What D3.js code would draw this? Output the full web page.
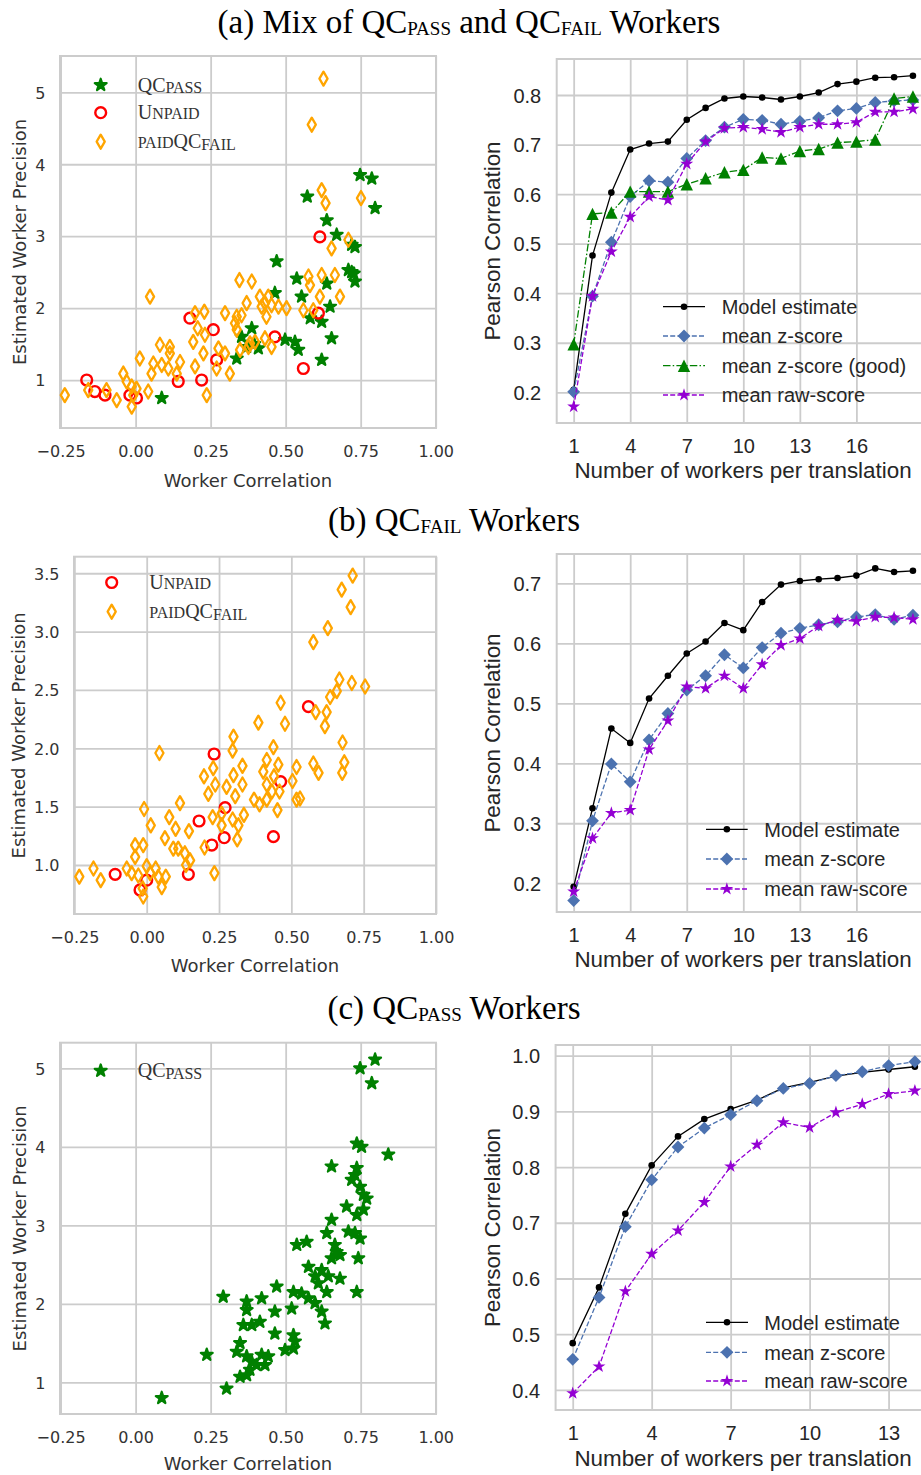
<!DOCTYPE html>
<html><head><meta charset="utf-8">
<script src="https://cdn.jsdelivr.net/npm/d3@7"></script>
<style>body{margin:0;background:#fff}svg{display:block}</style>
</head><body>
<svg id="chart" width="921" height="1475"></svg>
<script>
// ---------------- DATA ----------------
const corrTicks = [-0.25, 0, 0.25, 0.5, 0.75, 1.0];
const precTicksA = [1, 2, 3, 4, 5];
const precTicksB = [1.0, 1.5, 2.0, 2.5, 3.0, 3.5];
const precTicksC = [1, 2, 3, 4, 5];
const workerTicksAB = [1, 4, 7, 10, 13, 16];
const workerTicksC = [1, 4, 7, 10, 13];
const pearsonTicksA = [0.2, 0.3, 0.4, 0.5, 0.6, 0.7, 0.8];
const pearsonTicksB = [0.2, 0.3, 0.4, 0.5, 0.6, 0.7];
const pearsonTicksC = [0.4, 0.5, 0.6, 0.7, 0.8, 0.9, 1.0];

// (a) scatter: [worker correlation, estimated precision]
const aPass = [[0.748,3.85],[0.787,3.80],[0.572,3.55],[0.798,3.39],[0.637,3.22],[0.670,3.02],[0.731,2.85],[0.720,2.88],[0.470,2.65],[0.709,2.53],[0.727,2.48],[0.731,2.37],[0.537,2.41],[0.637,2.34],[0.464,2.21],[0.553,2.16],[0.648,2.02],[0.582,1.86],[0.620,1.81],[0.653,1.58],[0.620,1.28],[0.387,1.72],[0.353,1.60],[0.498,1.56],[0.531,1.53],[0.542,1.42],[0.409,1.44],[0.337,1.30],[0.087,0.75],[0.370,1.46],[0.395,1.50],[0.720,2.50]];
const aUnpaid = [[0.614,2.99],[0.609,1.93],[0.464,1.60],[0.559,1.16],[0.181,1.86],[0.259,1.70],[0.270,1.28],[0.142,0.98],[0.220,1.00],[-0.163,1.00],[-0.136,0.84],[-0.102,0.79],[-0.019,0.79],[0.003,0.75]];
const aFail = [[0.626,5.19],[0.587,4.55],[0.620,3.64],[0.633,3.46],[0.751,3.53],[0.709,2.95],[0.653,2.83],[0.346,2.39],[0.387,2.37],[0.576,2.44],[0.581,2.32],[0.620,2.46],[0.664,2.46],[0.681,2.16],[0.614,2.16],[0.592,1.97],[0.559,1.97],[0.048,2.16],[0.370,2.07],[0.414,2.16],[0.442,2.16],[0.420,2.02],[0.453,2.04],[0.476,2.02],[0.503,2.00],[0.436,1.88],[0.298,1.93],[0.337,1.88],[0.353,1.90],[0.331,1.79],[0.337,1.70],[0.198,1.93],[0.229,1.95],[0.207,1.72],[0.231,1.63],[0.192,1.53],[0.226,1.37],[0.081,1.49],[0.114,1.46],[0.114,1.37],[0.014,1.30],[0.059,1.23],[0.087,1.21],[0.109,1.16],[0.148,1.25],[0.137,1.09],[0.053,1.09],[0.042,0.84],[-0.041,1.09],[-0.030,0.98],[-0.013,0.91],[-0.008,0.79],[-0.013,0.63],[0.003,0.88],[-0.097,0.86],[-0.158,0.86],[-0.063,0.72],[-0.236,0.79],[0.198,1.19],[0.237,0.79],[0.276,1.44],[0.298,1.37],[0.270,1.16],[0.314,1.09],[0.348,1.42],[0.381,1.51],[0.398,1.53],[0.431,1.58],[0.453,1.46],[0.376,1.46],[0.431,2.07]];

// (a) curves
const workersA = [1,2,3,4,5,6,7,8,9,10,11,12,13,14,15,16,17,18,19];
const aModel = [0.205,0.476,0.603,0.690,0.702,0.706,0.750,0.774,0.793,0.797,0.795,0.791,0.797,0.805,0.822,0.827,0.835,0.836,0.839];
const aZ     = [0.201,0.394,0.503,0.595,0.627,0.624,0.672,0.708,0.735,0.751,0.749,0.741,0.747,0.754,0.768,0.773,0.785,0.788,0.790];
const aZGood = [0.297,0.560,0.563,0.605,0.605,0.605,0.620,0.632,0.644,0.649,0.674,0.672,0.687,0.691,0.704,0.706,0.710,0.793,0.797];
const aRaw   = [0.171,0.394,0.484,0.554,0.595,0.588,0.661,0.706,0.733,0.735,0.731,0.725,0.735,0.741,0.741,0.745,0.766,0.766,0.772];

// (b) scatter
const bUnpaid = [[0.559,2.357],[0.233,1.951],[0.463,1.714],[0.271,1.491],[0.181,1.377],[0.225,1.171],[0.268,1.234],[0.438,1.243],[0.144,0.920],[-0.109,0.920],[-0.023,0.786],[0.000,0.870]];
const bFail = [[0.712,3.48],[0.674,3.36],[0.705,3.21],[0.626,3.03],[0.576,2.91],[0.666,2.59],[0.709,2.56],[0.755,2.53],[0.634,2.44],[0.657,2.49],[0.463,2.39],[0.584,2.31],[0.622,2.31],[0.616,2.19],[0.386,2.22],[0.478,2.21],[0.300,2.10],[0.297,1.98],[0.438,2.01],[0.677,2.05],[0.683,1.88],[0.676,1.79],[0.576,1.87],[0.594,1.79],[0.044,1.96],[0.331,1.85],[0.415,1.90],[0.455,1.86],[0.403,1.80],[0.440,1.76],[0.518,1.84],[0.504,1.72],[0.300,1.77],[0.230,1.83],[0.198,1.76],[0.237,1.69],[0.276,1.67],[0.331,1.69],[0.213,1.61],[0.306,1.59],[0.415,1.69],[0.433,1.63],[0.459,1.63],[0.371,1.56],[0.390,1.52],[0.415,1.56],[0.452,1.47],[0.518,1.56],[0.530,1.57],[-0.009,1.48],[0.014,1.34],[0.115,1.53],[0.078,1.41],[0.100,1.31],[0.063,1.23],[0.146,1.29],[0.228,1.41],[0.259,1.44],[0.259,1.34],[0.297,1.39],[0.317,1.34],[0.336,1.43],[0.313,1.22],[0.200,1.15],[0.092,1.14],[0.109,1.14],[0.132,1.10],[0.150,1.04],[0.136,1.00],[-0.040,1.17],[-0.012,1.17],[-0.040,1.07],[0.000,0.99],[-0.069,0.97],[-0.029,0.91],[0.012,0.93],[0.031,0.97],[0.040,0.90],[0.052,0.81],[0.066,0.90],[-0.014,0.80],[-0.012,0.73],[-0.052,0.93],[-0.233,0.90],[-0.184,0.97],[-0.159,0.87],[0.234,0.93]];

// (b) curves
const workersB = [1,2,3,4,5,6,7,8,9,10,11,12,13,14,15,16,17,18,19];
const bModel = [0.194,0.325,0.458,0.434,0.508,0.546,0.583,0.603,0.634,0.622,0.669,0.698,0.704,0.707,0.709,0.713,0.725,0.719,0.721];
const bZ     = [0.171,0.304,0.399,0.369,0.439,0.483,0.522,0.546,0.581,0.559,0.593,0.617,0.625,0.631,0.636,0.644,0.648,0.640,0.647];
const bRaw   = [0.186,0.275,0.317,0.322,0.423,0.471,0.528,0.525,0.546,0.525,0.565,0.597,0.608,0.629,0.639,0.637,0.644,0.643,0.640];

// (c) scatter
const cPass = [[0.798,5.11],[0.748,5.00],[0.787,4.81],[0.737,4.04],[0.753,4.00],[0.842,3.90],[0.653,3.75],[0.737,3.73],[0.731,3.64],[0.720,3.58],[0.748,3.49],[0.759,3.39],[0.770,3.34],[0.703,3.24],[0.737,3.13],[0.759,3.20],[0.653,3.07],[0.637,2.90],[0.709,2.92],[0.731,2.90],[0.748,2.83],[0.742,2.58],[0.537,2.75],[0.570,2.79],[0.664,2.75],[0.670,2.66],[0.681,2.62],[0.653,2.58],[0.576,2.47],[0.620,2.43],[0.598,2.35],[0.642,2.35],[0.681,2.32],[0.609,2.26],[0.637,2.15],[0.737,2.15],[0.470,2.22],[0.526,2.15],[0.553,2.13],[0.576,2.07],[0.598,2.01],[0.620,1.90],[0.631,1.75],[0.292,2.09],[0.370,2.03],[0.420,2.07],[0.370,1.92],[0.464,1.90],[0.520,1.94],[0.359,1.73],[0.387,1.73],[0.414,1.77],[0.464,1.62],[0.526,1.60],[0.531,1.52],[0.498,1.41],[0.526,1.43],[0.237,1.35],[0.348,1.50],[0.337,1.39],[0.370,1.33],[0.387,1.26],[0.420,1.35],[0.442,1.33],[0.403,1.22],[0.381,1.16],[0.370,1.09],[0.348,1.07],[0.431,1.22],[0.303,0.92],[0.087,0.80]];

// (c) curves
const workersC = [1,2,3,4,5,6,7,8,9,10,11,12,13,14];
const cModel = [0.484,0.584,0.716,0.803,0.855,0.886,0.904,0.920,0.942,0.952,0.963,0.970,0.975,0.980];
const cZ     = [0.455,0.566,0.693,0.777,0.836,0.870,0.894,0.919,0.941,0.950,0.964,0.971,0.982,0.989];
const cRaw   = [0.394,0.442,0.577,0.644,0.686,0.737,0.801,0.840,0.880,0.871,0.898,0.913,0.931,0.937];

// ---------------- LAYOUT / STYLE ----------------
const svg = d3.select('#chart');
const GRID = '#cccccc';
const SERIF = '"Liberation Serif", "Times New Roman", serif';
const CMSANS = '"DejaVu Sans", sans-serif';
const ARIAL = '"Liberation Sans", Arial, sans-serif';
const COL = {pass: '#008000', unpaid: '#ff0000', fail: '#ffa500', model: '#000000', z: '#4c72b0', good: '#008000', raw: '#9400d3'};

const P = {
  aL: {x0: 60, x1: 436, y0: 56, y1: 428, xd: [-0.252, 1.001], yd: [0.333, 5.505], xLabBase: 59},
  aR: {x0: 556.7, x1: 929.9, y0: 59, y1: 423, xd: [0.1, 19.9], yd: [0.138, 0.8727]},
  bL: {x0: 74, x1: 436, y0: 556.7, y1: 914, xd: [-0.2513, 1.0], yd: [0.58, 3.642], xLabBase: 58},
  bR: {x0: 556.7, x1: 929.9, y0: 554, y1: 912, xd: [0.1, 19.9], yd: [0.152, 0.749]},
  cL: {x0: 60, x1: 436, y0: 1042.7, y1: 1414, xd: [-0.252, 1.001], yd: [0.596, 5.326], xLabBase: 56},
  cR: {x0: 555.6, x1: 932, y0: 1045, y1: 1410, xd: [0.35, 14.65], yd: [0.364, 1.019]}
};

const LEFT_STYLE = {font: CMSANS, tick: 16, label: 18, color: '#333333', xTickBase: 28.7, yTickGap: 14.5};
const RIGHT_STYLE = {font: ARIAL, tick: 20, label: 22.4, color: '#262626', xTickBase: 30.3, yTickGap: 15.5};

const fmtCorr = v => (v < 0 ? '\u2212' : '') + Math.abs(v).toFixed(2);

function frame(p, st, xTicks, yTicks, xFmt, yFmt, xLab, yLab, yLabX) {
  const g = svg.append('g');
  const x = d3.scaleLinear().domain(p.xd).range([p.x0, p.x1]);
  const y = d3.scaleLinear().domain(p.yd).range([p.y1, p.y0]);
  const W = p.x1 - p.x0, H = p.y1 - p.y0;
  const gx = g.append('g').attr('transform', `translate(0,${p.y1})`)
    .call(d3.axisBottom(x).tickValues(xTicks).tickFormat(xFmt).tickSize(-H).tickSizeOuter(0));
  const gy = g.append('g').attr('transform', `translate(${p.x0},0)`)
    .call(d3.axisLeft(y).tickValues(yTicks).tickFormat(yFmt).tickSize(-W).tickSizeOuter(0));
  [gx, gy].forEach(a => {
    a.select('.domain').remove();
    a.selectAll('line').attr('stroke', GRID).attr('stroke-width', 1.8);
    a.selectAll('text').attr('font-family', st.font).attr('font-size', st.tick).attr('fill', st.color);
  });
  gx.selectAll('text').attr('y', st.xTickBase).attr('dy', 0);
  gy.selectAll('text').attr('x', -st.yTickGap).attr('dy', '0.36em');
  g.append('rect').attr('x', p.x0).attr('y', p.y0).attr('width', W).attr('height', H)
    .attr('fill', 'none').attr('stroke', GRID).attr('stroke-width', 2);
  if (xLab) {
    g.append('text').attr('x', (p.x0 + p.x1) / 2)
      .attr('y', p.y1 + p.xLabBase).attr('text-anchor', 'middle')
      .attr('font-family', st.font).attr('font-size', st.label).attr('fill', st.color).text(xLab);
  }
  g.append('text').attr('transform', `translate(${yLabX},${(p.y0 + p.y1) / 2}) rotate(-90)`)
    .attr('dy', '0.36em').attr('text-anchor', 'middle')
    .attr('font-family', st.font).attr('font-size', st.label).attr('fill', st.color).text(yLab);
  return {x, y, g};
}

// rich text with sub/small caps: parts = [text, size, baselineShift]
function rich(x, y, parts, font, color, anchor) {
  const t = svg.append('text').attr('x', x).attr('y', y).attr('font-family', font)
    .attr('fill', color).attr('text-anchor', anchor || 'start');
  let prev = 0;
  parts.forEach(([txt, size, shift]) => {
    t.append('tspan').attr('font-size', size).attr('dy', shift - prev).text(txt);
    prev = shift;
  });
  return t;
}

// custom marker shapes (size = half-extent)
const thinDiamond = {draw(c, s) { const w = s * 0.58; c.moveTo(0, -s); c.lineTo(w, 0); c.lineTo(0, s); c.lineTo(-w, 0); c.closePath(); }};
const fatDiamond = {draw(c, s) { c.moveTo(0, -s); c.lineTo(s, 0); c.lineTo(0, s); c.lineTo(-s, 0); c.closePath(); }};
const triUp = {draw(c, s) { c.moveTo(0, -s); c.lineTo(s, s); c.lineTo(-s, s); c.closePath(); }};
const ring = {draw(c, s) { c.moveTo(s, 0); c.arc(0, 0, s, 0, 2 * Math.PI); }};

const MK = {
  pass:   {path: d3.symbol(d3.symbolStar, 44)(), fill: COL.pass, stroke: COL.pass, sw: 2.2},
  unpaid: {path: d3.symbol(ring, 5.4)(), fill: 'none', stroke: COL.unpaid, sw: 2.4},
  fail:   {path: d3.symbol(thinDiamond, 7)(), fill: 'none', stroke: COL.fail, sw: 2.3},
  model:  {path: d3.symbol(ring, 3.3)(), fill: COL.model, stroke: 'none', sw: 0},
  z:      {path: d3.symbol(fatDiamond, 6.4)(), fill: COL.z, stroke: 'none', sw: 0},
  good:   {path: d3.symbol(triUp, 6.2)(), fill: COL.good, stroke: 'none', sw: 0},
  raw:    {path: d3.symbol(d3.symbolStar, 52)(), fill: COL.raw, stroke: 'none', sw: 0}
};
const LS = {
  model: {color: COL.model, dash: null},
  z: {color: COL.z, dash: '5,2.2'},
  good: {color: COL.good, dash: '7.5,2.2,1.5,2.2'},
  raw: {color: COL.raw, dash: '5,2.2'}
};

function marks(g, sc, pts, mk) {
  g.append('g').selectAll('path').data(pts).join('path')
    .attr('transform', d => `translate(${sc.x(d[0])},${sc.y(d[1])})`)
    .attr('d', mk.path).attr('fill', mk.fill).attr('stroke', mk.stroke).attr('stroke-width', mk.sw)
    .attr('stroke-linejoin', 'round');
}
function series(g, sc, xs, ys, key) {
  const pts = d3.zip(xs, ys);
  const line = d3.line().x(d => sc.x(d[0])).y(d => sc.y(d[1]));
  g.append('path').attr('d', line(pts)).attr('fill', 'none').attr('stroke', LS[key].color)
    .attr('stroke-width', 1.3).attr('stroke-dasharray', LS[key].dash);
  marks(g, sc, pts, MK[key]);
}
function legendMarker(x, y, key) {
  const mk = MK[key];
  svg.append('path').attr('transform', `translate(${x},${y})`).attr('d', mk.path)
    .attr('fill', mk.fill).attr('stroke', mk.stroke).attr('stroke-width', mk.sw).attr('stroke-linejoin', 'round');
}
function lineLegend(x0, x1, tx, rows) {
  rows.forEach(([key, label, y]) => {
    svg.append('line').attr('x1', x0).attr('x2', x1).attr('y1', y).attr('y2', y)
      .attr('stroke', LS[key].color).attr('stroke-width', 1.3).attr('stroke-dasharray', LS[key].dash);
    legendMarker((x0 + x1) / 2, y, key);
    svg.append('text').attr('x', tx).attr('y', y + 7.2).attr('font-family', ARIAL).attr('font-size', 20)
      .attr('fill', '#262626').text(label);
  });
}
function xLabelRight(y) {
  svg.append('text').attr('x', 743).attr('y', y).attr('text-anchor', 'middle').attr('font-family', ARIAL)
    .attr('font-size', 22.4).attr('fill', '#262626').text('Number of workers per translation');
}

const LEG = '#333333';
const labPass = [['QC', 20, 0], ['PASS', 16, 1.7]];
const labUnpaid = [['U', 20, 0], ['NPAID', 16, 0]];
const labFail = [['PAID', 16, 0], ['QC', 20, 0], ['FAIL', 16, 1.7]];

// ---------------- TITLES ----------------
const TM = 33, TS = 19;
rich(469, 33, [['(a) Mix of QC', TM, 0], ['PASS', TS, 2], [' and QC', TM, 0], ['FAIL', TS, 2], [' Workers', TM, 0]], SERIF, '#000', 'middle');
rich(454, 531, [['(b) QC', TM, 0], ['FAIL', TS, 2], [' Workers', TM, 0]], SERIF, '#000', 'middle');
rich(454, 1019, [['(c) QC', TM, 0], ['PASS', TS, 2], [' Workers', TM, 0]], SERIF, '#000', 'middle');

// ---------------- PANEL (a) ----------------
{
  const sc = frame(P.aL, LEFT_STYLE, corrTicks, precTicksA, fmtCorr, d3.format('d'), 'Worker Correlation', 'Estimated Worker Precision', 20);
  marks(sc.g, sc, aPass, MK.pass);
  marks(sc.g, sc, aUnpaid, MK.unpaid);
  marks(sc.g, sc, aFail, MK.fail);
  legendMarker(100.7, 85, 'pass'); rich(137.7, 91.7, labPass, SERIF, LEG);
  legendMarker(100.7, 112.7, 'unpaid'); rich(137.7, 119, labUnpaid, SERIF, LEG);
  legendMarker(100.7, 141.7, 'fail'); rich(137.7, 148.3, labFail, SERIF, LEG);

  const sr = frame(P.aR, RIGHT_STYLE, workerTicksAB, pearsonTicksA, d3.format('d'), d3.format('.1f'), '', 'Pearson Correlation', 491.7);
  series(sr.g, sr, workersA, aModel, 'model');
  series(sr.g, sr, workersA, aZ, 'z');
  series(sr.g, sr, workersA, aZGood, 'good');
  series(sr.g, sr, workersA, aRaw, 'raw');
  lineLegend(663, 705, 721.7, [['model', 'Model estimate', 306.7], ['z', 'mean z-score', 336], ['good', 'mean z-score (good)', 365.7], ['raw', 'mean raw-score', 395]]);
  xLabelRight(478.3);
}

// ---------------- PANEL (b) ----------------
{
  const sc = frame(P.bL, LEFT_STYLE, corrTicks, precTicksB, fmtCorr, d3.format('.1f'), 'Worker Correlation', 'Estimated Worker Precision', 18.5);
  marks(sc.g, sc, bUnpaid, MK.unpaid);
  marks(sc.g, sc, bFail, MK.fail);
  legendMarker(111.7, 582.5, 'unpaid'); rich(149.3, 588.5, labUnpaid, SERIF, LEG);
  legendMarker(111.7, 611.7, 'fail'); rich(149.3, 618.3, labFail, SERIF, LEG);

  const sr = frame(P.bR, RIGHT_STYLE, workerTicksAB, pearsonTicksB, d3.format('d'), d3.format('.1f'), '', 'Pearson Correlation', 491.7);
  series(sr.g, sr, workersB, bModel, 'model');
  series(sr.g, sr, workersB, bZ, 'z');
  series(sr.g, sr, workersB, bRaw, 'raw');
  lineLegend(706, 747.7, 764.3, [['model', 'Model estimate', 829.3], ['z', 'mean z-score', 859], ['raw', 'mean raw-score', 889]]);
  xLabelRight(967.3);
}

// ---------------- PANEL (c) ----------------
{
  const sc = frame(P.cL, LEFT_STYLE, corrTicks, precTicksC, fmtCorr, d3.format('d'), 'Worker Correlation', 'Estimated Worker Precision', 20);
  marks(sc.g, sc, cPass, MK.pass);
  legendMarker(100.7, 1070.7, 'pass'); rich(137.7, 1077.3, labPass, SERIF, LEG);

  const sr = frame(P.cR, RIGHT_STYLE, workerTicksC, pearsonTicksC, d3.format('d'), d3.format('.1f'), '', 'Pearson Correlation', 491.7);
  series(sr.g, sr, workersC, cModel, 'model');
  series(sr.g, sr, workersC, cZ, 'z');
  series(sr.g, sr, workersC, cRaw, 'raw');
  lineLegend(706, 748, 764.3, [['model', 'Model estimate', 1322.3], ['z', 'mean z-score', 1352.3], ['raw', 'mean raw-score', 1381]]);
  xLabelRight(1466);
}
</script>
</body></html>
